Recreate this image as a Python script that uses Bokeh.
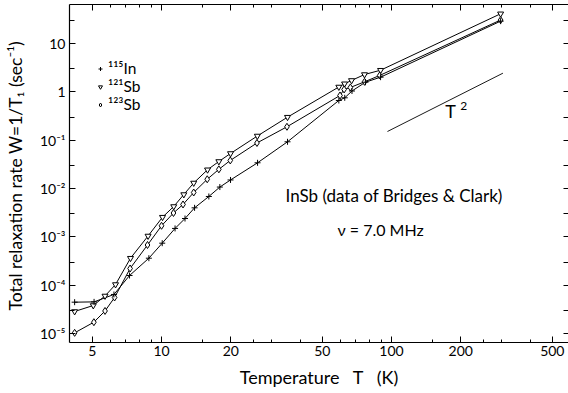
import numpy as np
from bokeh.plotting import figure
from bokeh.models import (LogAxis, FixedTicker, CustomJSTickFormatter, Legend,
                          LegendItem, Label, Range1d)
from bokeh.embed import file_html
from bokeh.resources import INLINE

# ---------------- data ----------------
sb121_T = [4.19, 5.05, 5.68, 6.31, 7.33, 8.74, 10.1, 11.3, 12.5, 13.8, 15.85,
           17.75, 19.95, 26.1, 35.3, 59.0, 62.5, 67.0, 76.3, 89.6, 298]
sb121_W = [2.85e-5, 3.79e-5, 5.97e-5, 1.03e-4, 3.61e-4, 1.04e-3, 2.55e-3,
           4.24e-3, 7.5e-3, 1.30e-2, 2.44e-2, 3.62e-2, 5.3e-2, 0.122, 0.299,
           1.26, 1.47, 1.72, 2.28, 2.80, 41.2]

sb123_T = [4.19, 5.08, 5.68, 6.25, 7.30, 8.69, 10.0, 11.27, 12.4, 13.8, 15.8,
           17.75, 19.9, 26.0, 35.1, 59.7, 62.2, 66.2, 76.3, 88.8, 298]
sb123_W = [1.03e-5, 1.71e-5, 2.92e-5, 5.55e-5, 2.21e-4, 6.77e-4, 1.69e-3,
           3.11e-3, 4.67e-3, 8.26e-3, 1.55e-2, 2.49e-2, 3.8e-2, 8.74e-2, 0.189,
           0.84, 1.12, 1.23, 1.61, 2.18, 30.6]

in115_T = [4.19, 5.09, 6.21, 7.26, 8.81, 10.07, 11.45, 12.65, 13.92, 16.06,
           17.93, 19.95, 26.15, 35.3, 59.0, 62.6, 67.3, 77.0, 89.6, 298]
in115_W = [4.44e-5, 4.5e-5, 6.41e-5, 1.58e-4, 3.61e-4, 7.38e-4, 1.49e-3,
           2.39e-3, 3.98e-3, 6.83e-3, 1.07e-2, 1.5e-2, 3.4e-2, 9.25e-2, 0.662,
           0.752, 1.04, 1.58, 2.01, 29.0]

t2_T = [96, 305]
t2_W = [0.151, 2.43]

x_major = [5, 10, 20, 50, 100, 200, 500]
x_minor = [6, 7, 8, 9, 15, 25, 30, 40, 60, 70, 80, 90, 150, 250, 300, 400]
y_major = [1e-5, 1e-4, 1e-3, 1e-2, 1e-1, 1, 10]
y_minor = [3e-6, 3e-5, 3e-4, 3e-3, 3e-2, 3e-1, 3, 30]

legend_labels = ["\u00b9\u00b9\u2075In", "\u00b9\u00b2\u00b9Sb", "\u00b9\u00b2\u00b3Sb"]

FONT = "Lato"

p = figure(width=568, height=393, x_axis_type="log", y_axis_type="log",
           x_range=Range1d(3.98, 588), y_range=Range1d(6.5e-6, 64.1),
           output_backend="svg", toolbar_location=None,
           min_border_left=69, min_border_right=0, min_border_top=4,
           min_border_bottom=51)
p.outline_line_color = None
p.grid.visible = False
p.background_fill_color = "white"

xt = FixedTicker(ticks=x_major, minor_ticks=x_minor)
yt = FixedTicker(ticks=y_major, minor_ticks=y_minor)

yfmt = CustomJSTickFormatter(code="""
const e = Math.round(Math.log10(tick));
if (e === 1) return "10";
if (e === 0) return "1";
const sup = {"-":"\\u207b","0":"\\u2070","1":"\\u00b9","2":"\\u00b2","3":"\\u00b3",
             "4":"\\u2074","5":"\\u2075","6":"\\u2076","7":"\\u2077","8":"\\u2078","9":"\\u2079"};
return "10" + String(e).split("").map(c => sup[c]).join("");
""")
xfmt = CustomJSTickFormatter(code="return String(Math.round(tick));")
blank = CustomJSTickFormatter(code="return '';")

for ax in p.xaxis:
    ax.ticker = xt
    ax.formatter = xfmt
for ax in p.yaxis:
    ax.ticker = yt
    ax.formatter = yfmt


def style(ax, maj, mnr):
    ax.major_tick_in = maj
    ax.major_tick_out = 0
    ax.minor_tick_in = mnr
    ax.minor_tick_out = 0
    ax.axis_line_color = "black"
    ax.axis_line_width = 1.2
    ax.major_tick_line_color = "black"
    ax.minor_tick_line_color = "black"
    ax.major_label_text_font = FONT
    ax.major_label_text_color = "black"
    ax.axis_label_text_font = FONT
    ax.axis_label_text_font_style = "normal"
    ax.axis_label_text_color = "black"


xa = p.xaxis[0]
style(xa, 6, 3)
xa.major_label_text_font_size = "14px"
xa.major_label_standoff = 3
xa.axis_label = "Temperature\u00a0\u00a0\u00a0T\u00a0\u00a0\u00a0(K)"
xa.axis_label_text_font_size = "18px"
xa.axis_label_standoff = 7

ya = p.yaxis[0]
style(ya, 6, 5)
ya.major_label_text_font_size = "14px"
ya.major_label_standoff = 4
ya.axis_label = "Total relaxation rate  W=1/T\u2081 (sec\u207b\u00b9)"
ya.axis_label_text_font_size = "17.5px"
ya.axis_label_standoff = 11

top = LogAxis(ticker=xt, formatter=blank, major_label_standoff=0)
style(top, 6, 3)
top.major_label_text_font_size = "0px"
p.add_layout(top, "above")

right = LogAxis(ticker=yt, formatter=blank, major_label_standoff=0)
style(right, 5, 5)
right.axis_line_color = None
right.major_label_text_font_size = "0px"
p.add_layout(right, "right")

# ---------------- series ----------------
lw = 1.0
p.line(sb121_T, sb121_W, line_color="black", line_width=lw)
p.line(sb123_T, sb123_W, line_color="black", line_width=lw)
p.line(in115_T, in115_W, line_color="black", line_width=lw)

r121 = p.scatter(sb121_T, sb121_W, marker="inverted_triangle", size=6,
                 line_color="black", fill_color="white", line_width=1)
r123 = p.scatter(sb123_T, sb123_W, marker="diamond", size=7,
                 line_color="black", fill_color="white", line_width=1)
r115 = p.scatter(in115_T, in115_W, marker="cross", size=6,
                 line_color="black", line_width=1)

p.line(t2_T, t2_W, line_color="black", line_width=0.9)

legend = Legend(items=[LegendItem(label=legend_labels[0], renderers=[r115]),
                       LegendItem(label=legend_labels[1], renderers=[r121]),
                       LegendItem(label=legend_labels[2], renderers=[r123])],
                location=(26, 229))
legend.border_line_color = None
legend.background_fill_alpha = 0
legend.padding = 0
legend.margin = 0
legend.spacing = 0
legend.glyph_width = 10
legend.glyph_height = 15
legend.label_height = 15
legend.label_standoff = 3
legend.label_text_font = FONT
legend.label_text_color = "black"
legend.label_text_font_size = "15.5px"
p.add_layout(legend)

p.add_layout(Label(x=34.6, y=7.16e-3, text="InSb (data of Bridges & Clark)",
                   text_font=FONT, text_font_size="17px", text_baseline="middle",
                   text_align="left", text_color="black"))
p.add_layout(Label(x=58.2, y=1.42e-3, text="\u03bd = 7.0 MHz",
                   text_font=FONT, text_font_size="16px", text_baseline="middle",
                   text_align="left", text_color="black"))
p.add_layout(Label(x=171, y=0.41, text="T",
                   text_font=FONT, text_font_size="18px", text_baseline="middle",
                   text_align="left", text_color="black"))
p.add_layout(Label(x=199, y=0.52, text="2",
                   text_font=FONT, text_font_size="12px", text_baseline="middle",
                   text_align="left", text_color="black"))

open("out.html", "w").write(file_html(p, INLINE))
